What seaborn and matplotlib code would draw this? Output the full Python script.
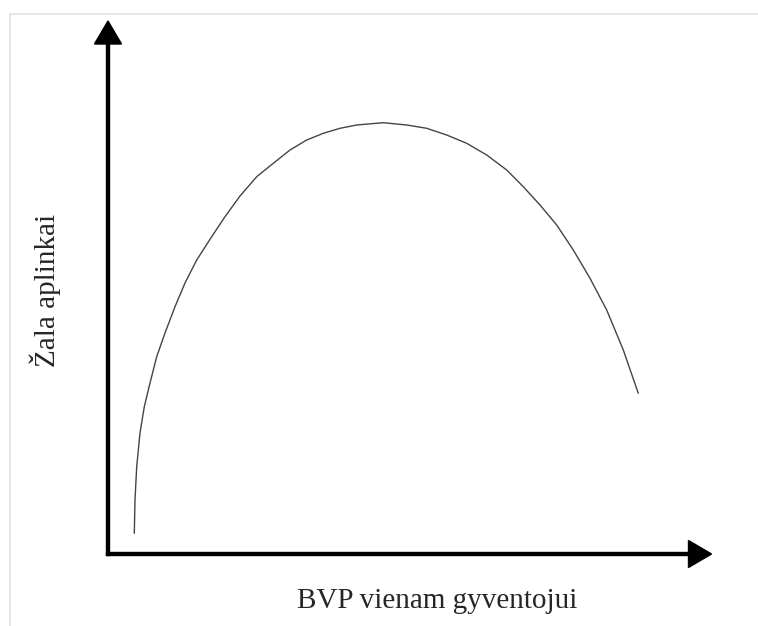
import matplotlib
matplotlib.use("Agg")
import matplotlib.pyplot as plt
import seaborn as sns
import pandas as pd
from matplotlib.patches import Rectangle

# environmental Kuznets curve (arbitrary units)
gdp = [26.3, 27.0, 28.7, 32.0, 36.3, 42.0, 48.7, 57.0, 67.0, 77.0, 88.7, 103.7,
       117.0, 132.0, 148.7, 165.3, 182.0, 198.7, 215.3, 232.0, 248.7, 275.3,
       298.7, 318.7, 338.7, 358.7, 378.7, 398.7, 415.3, 432.0, 448.7, 465.3,
       482.0, 498.7, 515.3, 530.3]
damage = [20.7, 54.0, 87.3, 121.0, 147.3, 171.0, 197.3, 221.0, 247.3, 271.0, 294.0, 317.3,
          337.3, 358.0, 377.3, 390.7, 404.0, 414.0, 420.7, 425.7, 429.0, 431.3,
          429.0, 425.7, 419.0, 410.7, 399.0, 384.0, 367.3, 349.0, 329.0, 304.0,
          275.7, 244.0, 204.0, 160.7]

x_label = "BVP vienam gyventojui"
y_label = "Žala aplinkai"

sns.set_style("white")
plt.rcParams["font.family"] = ["Liberation Serif", "DejaVu Serif"]

fig = plt.figure(figsize=(7.58, 6.26), dpi=100)
ax = fig.add_axes([0, 0, 1, 1])
ax.set_xlim(-108, 650)
ax.set_ylim(-72, 554)
ax.axis("off")

# thin grey frame round the image
fig.patches.append(Rectangle((10 / 758, -0.01), 1.0, (626 - 14) / 626 + 0.01,
                             transform=fig.transFigure, fill=False,
                             edgecolor="#e2e2e2", linewidth=1.2))

df = pd.DataFrame({"gdp": gdp, "damage": damage})
sns.lineplot(data=df, x="gdp", y="damage", ax=ax, color="#444444", linewidth=1.0,
             estimator=None)

# axes drawn as arrows
ax.arrow(0, -1.5, 0, 534.5, width=3, head_width=27, head_length=23,
         length_includes_head=True, color="black")
ax.arrow(-1.5, 0, 605, 0, width=3, head_width=27, head_length=23,
         length_includes_head=True, color="black")

ax.text(329, -47, x_label, ha="center", va="center", fontsize=21)
ax.text(-63, 264, y_label, ha="center", va="center", rotation=90, fontsize=21)

fig.savefig("out.png", dpi=100)
